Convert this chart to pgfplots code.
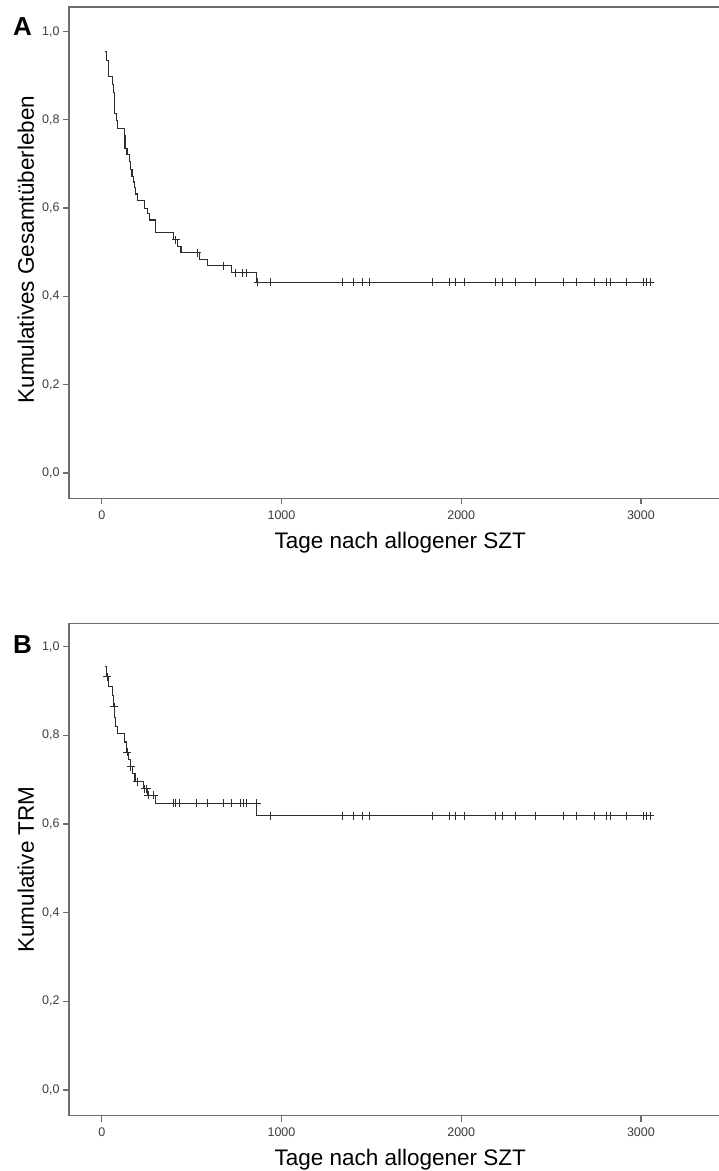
\documentclass[border=0pt]{standalone}
\usepackage{fontspec}
\setmainfont{Liberation Sans}
\usepackage{pgfplots}
\pgfplotsset{compat=1.18}
\definecolor{framec}{RGB}{110,110,110}
\definecolor{curvec}{RGB}{45,45,45}
\definecolor{ticklab}{RGB}{60,60,60}

\pgfplotsset{kmstyle/.style={
  scale only axis, width=652pt,
  xmin=-182.5, xmax=3445.7,
  xtick={0,1000,2000,3000}, ytick={0,0.2,0.4,0.6,0.8,1.0},
  tick align=outside, tick pos=left, major tick length=6pt,
  axis line style={framec, line width=1.5pt},
  every tick/.style={framec, line width=1.3pt},
  tick label style={font=\fontsize{12.5}{14}\selectfont, text=ticklab},
  /pgf/number format/assume math mode=true,
  xticklabel style={/pgf/number format/1000 sep={}, yshift=-3pt},
  yticklabel style={/pgf/number format/.cd, use comma, fixed, fixed zerofill, precision=1, /tikz/.cd},
  label style={font=\fontsize{22.5}{26}\selectfont},
  xlabel={Tage nach allogener SZT},
  xlabel style={at={(axis description cs:0.508,-0.1017)}, anchor=base},
  clip=false,
}}
\pgfplotsset{curve/.style={const plot, color=curvec, line width=1.1pt, no marks},
  censor/.style={only marks, mark=+, mark size=4pt, color=curvec, mark options={line width=0.9pt}}}

\begin{document}
\begin{tikzpicture}
\useasboundingbox (0,0) rectangle (719pt,1171pt);
% Panel A
\begin{axis}[kmstyle, at={(69pt,672.7pt)}, anchor=south west, height=491.3pt,
  ymin=-0.0573, ymax=1.0555,
  ylabel={Kumulatives Gesamtüberleben},
  ylabel style={at={(axis description cs:-0.0537,0.5064)}, anchor=base}]
\addplot[curve] coordinates {(18,0.955) (25,0.935) (36,0.899) (62,0.880) (66,0.862) (70,0.840) (73,0.815) (80,0.798) (86,0.781) (124,0.764) (129,0.735) (140,0.722) (153,0.705) (162,0.688) (168,0.671) (175,0.659) (180,0.647) (190,0.632) (201,0.618) (240,0.600) (252,0.588) (263,0.573) (300,0.544) (400,0.528) (420,0.513) (441,0.499) (544,0.484) (590,0.469) (723,0.454) (862,0.432) (3053,0.432)};
\addplot[censor] coordinates {(411,0.528) (531,0.499) (679,0.469) (745,0.454) (785,0.454) (805,0.454) (868,0.432) (939,0.432) (1338,0.432) (1399,0.432) (1450,0.432) (1491,0.432) (1841,0.432) (1935,0.432) (1968,0.432) (2017,0.432) (2190,0.432) (2229,0.432) (2303,0.432) (2412,0.432) (2568,0.432) (2644,0.432) (2744,0.432) (2808,0.432) (2828,0.432) (2918,0.432) (3015,0.432) (3033,0.432) (3053,0.432)};
\end{axis}
% Panel B
\begin{axis}[kmstyle, at={(69pt,55.3pt)}, anchor=south west, height=492.4pt,
  ymin=-0.058, ymax=1.0528,
  ylabel={Kumulative TRM},
  ylabel style={at={(axis description cs:-0.0537,0.5)}, anchor=base}]
\addplot[curve] coordinates {(18,0.955) (28,0.932) (38,0.911) (62,0.890) (66,0.865) (72,0.840) (78,0.820) (86,0.805) (124,0.785) (135,0.762) (150,0.745) (158,0.729) (170,0.714) (185,0.695) (230,0.680) (252,0.665) (300,0.647) (862,0.619) (3053,0.619)};
\addplot[censor] coordinates {(31,0.932) (68,0.865) (143,0.762) (162,0.729) (196,0.695) (240,0.680) (250,0.680) (259,0.665) (290,0.665) (397,0.647) (410,0.647) (432,0.647) (528,0.647) (586,0.647) (676,0.647) (724,0.647) (772,0.647) (788,0.647) (805,0.647) (862,0.647) (939,0.619) (1338,0.619) (1399,0.619) (1450,0.619) (1491,0.619) (1841,0.619) (1935,0.619) (1968,0.619) (2017,0.619) (2190,0.619) (2229,0.619) (2303,0.619) (2412,0.619) (2568,0.619) (2644,0.619) (2744,0.619) (2808,0.619) (2828,0.619) (2918,0.619) (3015,0.619) (3033,0.619) (3053,0.619)};
\end{axis}
\node[anchor=north west, inner sep=0pt, font=\fontsize{26}{30}\selectfont\bfseries] at (13pt,1154pt) {A};
\node[anchor=north west, inner sep=0pt, font=\fontsize{26}{30}\selectfont\bfseries] at (13pt,536pt) {B};
\end{tikzpicture}
\end{document}
